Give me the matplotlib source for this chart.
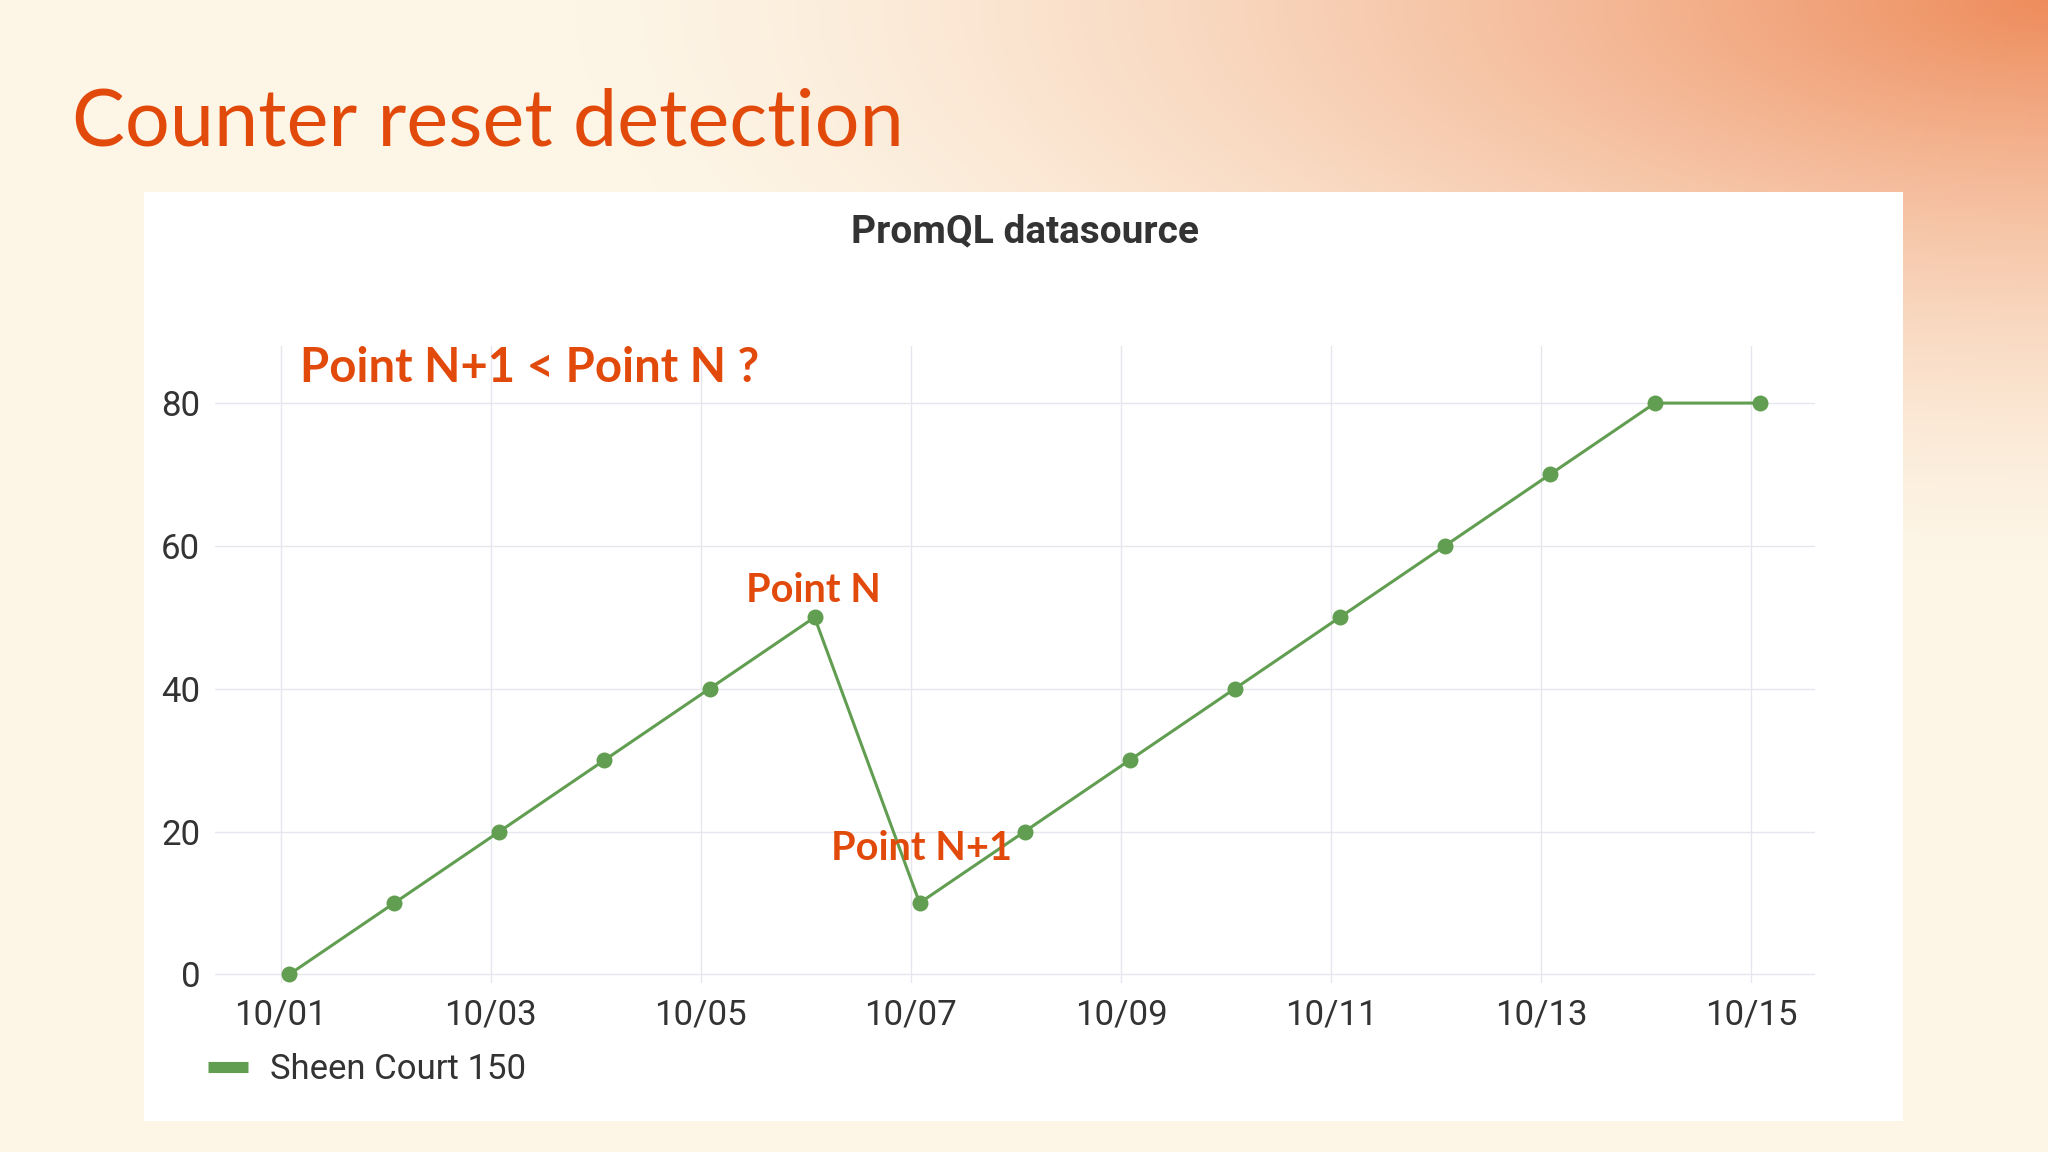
import numpy as np
import matplotlib
matplotlib.use("Agg")
import matplotlib.pyplot as plt
import matplotlib.dates as mdates
from matplotlib.lines import Line2D
from matplotlib.patches import Rectangle
from datetime import datetime

# Data
dates = [datetime(2023, 10, d, 2, 0) for d in range(1, 16)]
values = [0, 10, 20, 30, 40, 50, 10, 20, 30, 40, 50, 60, 70, 80, 80]
series_name = "Sheen Court 150"
tick_days = [1, 3, 5, 7, 9, 11, 13, 15]
y_ticks = [0, 20, 40, 60, 80]

green = "#629e51"
orange = "#e24a0c"
text_gray = "#333333"

fig = plt.figure(figsize=(20.48, 11.52), dpi=100)

# Slide background: cream with an orange glow in the top right corner
bg = fig.add_axes([0, 0, 1, 1], zorder=-10)
h, w = 288, 512
yy, xx = np.mgrid[0:h, 0:w]
d = np.sqrt(((xx - w) / w) ** 2 + (yy / h) ** 2 * 2.2)
glow = np.clip(1 - d / 0.72, 0, 1) ** 1.5
base = np.array([253, 245, 230]) / 255
hot = np.array([238, 140, 92]) / 255
img = base[None, None, :] * (1 - glow[..., None]) + hot[None, None, :] * glow[..., None]
bg.imshow(img, extent=[0, 1, 0, 1], aspect="auto", origin="upper")
bg.set_xlim(0, 1)
bg.set_ylim(0, 1)
bg.axis("off")

# White panel behind the chart
fig.patches.append(Rectangle((0.0703, 0.0269), 0.8589, 0.8064, transform=fig.transFigure,
                             facecolor="white", edgecolor="none", zorder=-5))

fig.text(0.035, 0.893, "Counter reset detection", fontsize=57, family="Lato",
         color=orange, ha="left", va="center")
fig.text(0.5005, 0.799, "PromQL datasource", fontsize=28, family="Roboto", weight="bold",
         color=text_gray, ha="center", va="center")

ax = fig.add_axes([0.1052, 0.1464, 0.7812, 0.5533])
ax.set_facecolor("none")
ax.plot(dates, values, color=green, lw=2.2, marker="o", markersize=11.5,
        markeredgewidth=0, label=series_name, zorder=3)

ax.set_xlim(mdates.date2num(datetime(2023, 10, 1)) - 0.62,
            mdates.date2num(datetime(2023, 10, 1)) + 14.61)
ax.set_ylim(-1.26, 88)
ax.set_xticks([datetime(2023, 10, d) for d in tick_days])
ax.xaxis.set_major_formatter(mdates.DateFormatter("%m/%d"))
ax.set_yticks(y_ticks)
ax.grid(True, color="#e6e6ee", lw=1.0)
ax.set_axisbelow(True)
for s in ax.spines.values():
    s.set_visible(False)
ax.tick_params(length=0, labelsize=25, labelcolor=text_gray)
ax.tick_params(axis="x", pad=11)
ax.tick_params(axis="y", pad=11)
for lab in ax.get_xticklabels() + ax.get_yticklabels():
    lab.set_family("Roboto")

# Annotations
ax.annotate("Point N", xy=(dates[5], values[5]), xytext=(-1, 19), textcoords="offset points",
            ha="center", va="center", fontsize=28.5, family="Lato", weight="bold", color=orange)
ax.annotate("Point N+1", xy=(dates[6], values[6]), xytext=(1, 39), textcoords="offset points",
            ha="center", va="center", fontsize=28.5, family="Lato", weight="bold", color=orange)
ax.text(0.053, 0.965, "Point N+1 < Point N ?", transform=ax.transAxes, ha="left", va="center",
        fontsize=34, family="Lato", weight="bold", color=orange)

handle = Line2D([], [], color=green, lw=8, solid_capstyle="butt")
fig.legend([handle], [series_name], loc="center left", bbox_to_anchor=(0.1015, 0.0712),
           frameon=False, handlelength=1.15, handletextpad=0.65, borderpad=0, borderaxespad=0,
           prop={"family": "Roboto", "size": 25}, labelcolor=text_gray)

fig.savefig("out.png", dpi=100)
